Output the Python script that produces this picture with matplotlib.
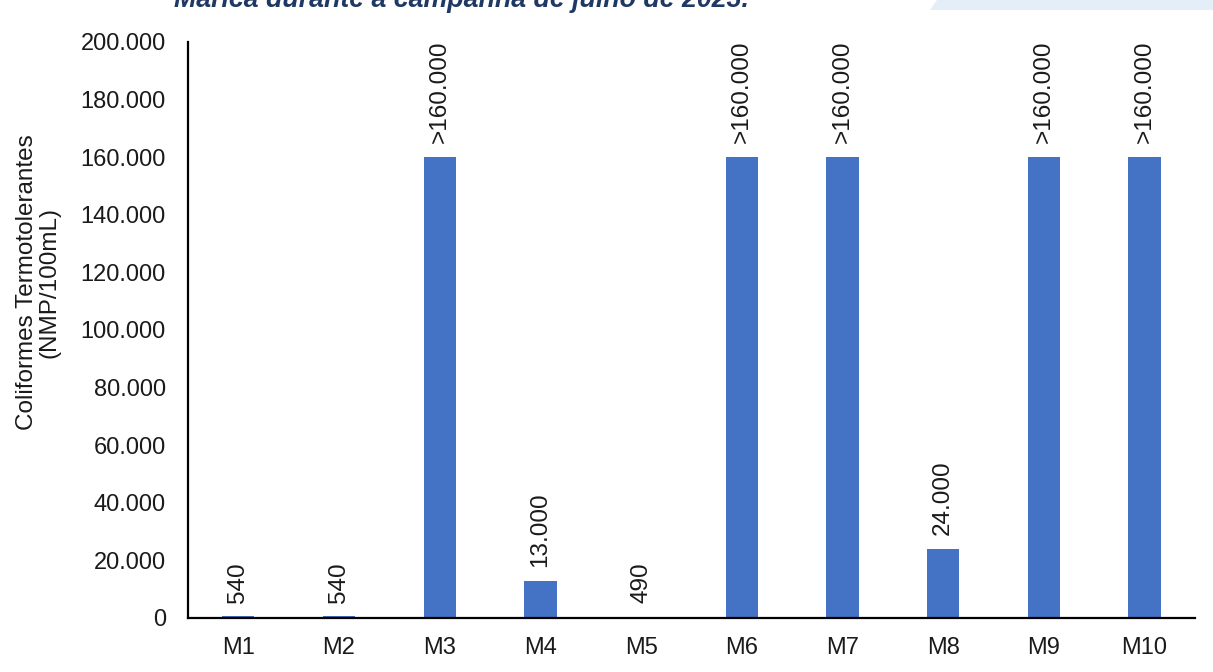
import matplotlib
matplotlib.use("Agg")
import matplotlib.pyplot as plt
from matplotlib.patches import Polygon
import numpy as np

# ─── Data ────────────────────────────────────────────────────────────────
pontos = ["M1", "M2", "M3", "M4", "M5", "M6", "M7", "M8", "M9", "M10"]
valores = [540, 540, 160000, 13000, 490, 160000, 160000, 24000, 160000, 160000]
rotulos = ["540", "540", ">160.000", "13.000", "490",
           ">160.000", ">160.000", "24.000", ">160.000", ">160.000"]
y_ticks = [0, 20000, 40000, 60000, 80000, 100000, 120000, 140000, 160000, 180000, 200000]

plt.rcParams["font.family"] = ["Liberation Sans", "DejaVu Sans"]

fig = plt.figure(figsize=(12.13, 6.72), dpi=100)
ax = fig.add_axes([0.155, 0.0804, 0.830, 0.8571])

x = np.arange(len(pontos))
ax.bar(x, valores, width=0.32, color="#4472c4", zorder=2)

# Rotated value labels above each bar
for xi, v, lab in zip(x, valores, rotulos):
    ax.annotate(lab, (xi, v), xytext=(0, 10), textcoords="offset points",
                rotation=90, ha="center", va="bottom", fontsize=17.5, color="#1a1a1a")

ax.set_xlim(-0.5, len(pontos) - 0.5)
ax.set_ylim(0, 200000)
ax.set_xticks(x)
ax.set_xticklabels(pontos)
ax.set_yticks(y_ticks)
ax.set_yticklabels([f"{t:,}".replace(",", ".") for t in y_ticks])
ax.tick_params(axis="both", length=0, labelsize=17, colors="#1a1a1a")
ax.tick_params(axis="y", pad=16)
ax.tick_params(axis="x", pad=14)

for s in ["top", "right"]:
    ax.spines[s].set_visible(False)
for s in ["left", "bottom"]:
    ax.spines[s].set_color("black")
    ax.spines[s].set_linewidth(1.6)

ax.set_ylabel("Coliformes Termotolerantes\n(NMP/100mL)", fontsize=17.5,
              color="#1a1a1a", linespacing=1.0)
ax.yaxis.set_label_coords(-0.127, 0.583)

# Cropped caption and header band from the source document
fig.text(0.38, 1 - 7 / 672, "Maricá durante a campanha de julho de 2023.",
         ha="center", va="baseline", fontsize=19.3, fontweight="bold",
         fontstyle="italic", color="#1f3864")
band = Polygon([[930 / 1213, 1 - 10 / 672], [1.0, 1 - 10 / 672], [1.0, 1.0],
                [937 / 1213, 1.0]], closed=True, transform=fig.transFigure,
               facecolor="#e4eef8", edgecolor="none")
fig.patches.append(band)

plt.savefig("out.png", dpi=100)
plt.close(fig)
